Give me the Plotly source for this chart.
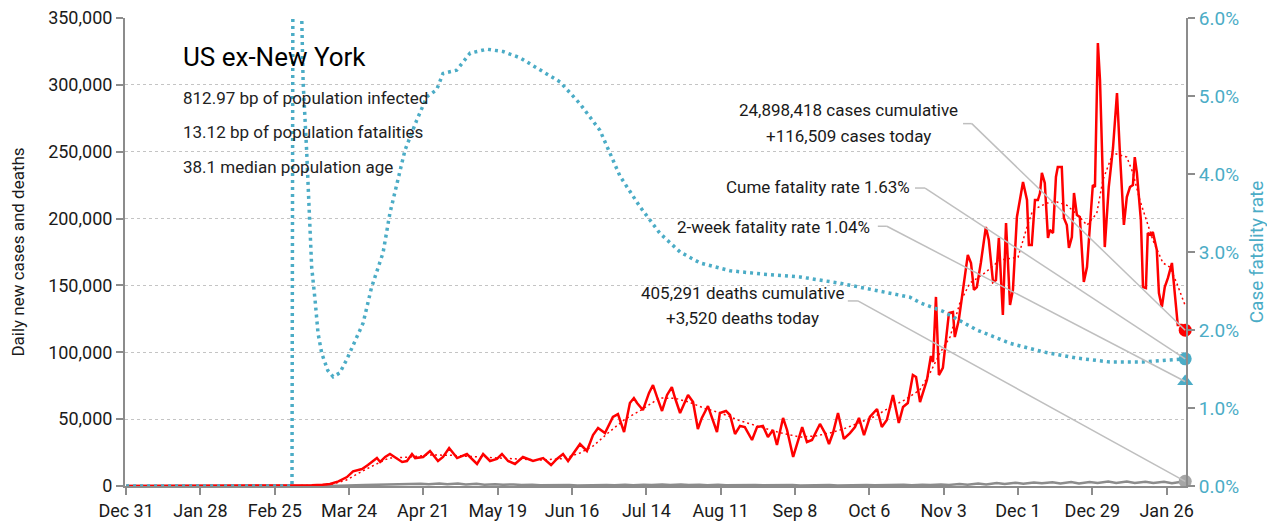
import numpy as np
import pandas as pd
import plotly.graph_objects as go

BASE = pd.Timestamp("2019-12-31")

# ---------------- data (days since Dec 31, 2019) ----------------
case_day = [0, 40, 55, 60, 65, 70, 74, 76.8, 80, 83.2, 85.5, 88.9, 91.1, 94.5, 95.7, 97.6, 99.4,
            101.3, 104.0, 105.8, 107.7, 108.9, 111.9, 114.5, 117.5, 119.4, 121.7, 124.7, 128.4,
            132.2, 134.5, 137.1, 139.7, 141.6, 143.9, 146.5, 149.5, 153.3, 157.1, 160.1, 162.3,
            164.6, 166.5, 171.0, 173.6, 175.9, 177.8, 180.4, 183.4, 185.3, 187.6, 189.8, 191.3,
            192.5, 194.7, 197.0, 198.5, 200.0, 201.9, 203.8, 205.6, 206.8, 208.7, 211.7, 213.6,
            215.4, 216.9, 219.2, 220.7, 222.6, 223.7, 226.0, 227.5, 229.4, 231.3, 233.1, 235.8,
            237.7, 239.9, 241.8, 243.7, 245.2, 247.5, 249.0, 251.3, 254.7, 256.5, 258.4, 261.4,
            263.3, 264.8, 266.3, 268.2, 270.4, 272.7, 274.6, 276.1, 278.0, 280.2, 282.9, 284.7,
            286.6, 288.9, 291.1, 292.7, 294.5, 296.4, 297.6, 299.1, 301.7, 303.2, 304.0, 305.1,
            306.2, 307.7, 310.0, 311.5, 312.2, 313.7, 315.3, 317.1, 318.3, 319.4, 320.5, 322.0,
            323.9, 325.0, 326.6, 327.7, 328.8, 330.3, 331.5, 333.0, 334.1, 335.6, 337.9, 339.4,
            340.1, 341.2, 342.4, 343.5, 344.3, 345.0, 346.1, 347.3, 348.0, 349.2, 350.3, 351.0,
            352.5, 353.3, 354.4, 355.2, 356.3, 357.1, 358.2, 359.3, 360.8, 362.0, 364.2, 365.0,
            366.1, 366.9, 368.7, 370.2, 371.8, 373.3, 374.4, 375.9, 377.0, 378.2, 379.3, 380.0,
            380.8, 382.3, 383.1, 384.2, 384.9, 386.1, 386.8, 388.3, 389.1, 390.2, 391.3, 392.5,
            394.0, 395.5, 396.2, 397.7, 399.0]
case_val = [0, 0, 0, 50, 300, 500, 1000, 1500, 3500, 6700, 11000, 12700, 15700, 20900, 18000, 21700, 23900,
            21700, 18000, 18700, 23900, 20900, 21700, 26200, 18700, 21700, 28400, 20900, 23900,
            16500, 23900, 18700, 20200, 23900, 18700, 16500, 21700, 18700, 20900, 15700, 20200,
            23900, 18700, 31400, 26200, 38100, 43400, 39600, 51600, 53800, 40400, 62100, 65800,
            62100, 56800, 69600, 75500, 66600, 56100, 68100, 74000, 65800, 54600, 68100, 62800,
            42600, 50900, 59800, 51600, 40400, 54600, 56100, 53100, 38900, 44900, 44100, 34400,
            44100, 44900, 36600, 41900, 30700, 50900, 41900, 21700, 44100, 32900, 34400, 46400,
            39600, 31400, 39600, 54600, 35200, 39600, 44100, 50900, 38100, 51600, 57600, 44100,
            49400, 68100, 47100, 59100, 62100, 83000, 81500, 62800, 79300, 97200, 92700, 141400,
            83000, 88300, 129400, 130100, 111400, 124200, 148800, 172800, 166800, 146600, 148800, 166800,
            193700, 184000, 152600, 154100, 185500, 127900, 196700, 135400, 146600, 201200, 227400, 213900,
            180200, 180200, 213900, 213900, 219100, 234100, 226600, 185500, 191500, 189200, 231100, 238600,
            238600, 200400, 195200, 178000, 186200, 219100, 202700, 201200, 152600, 163800, 225100, 223600,
            331300, 303600, 178700, 223600, 252800, 293900, 249000, 195200, 216100, 223600, 225100, 246000,
            234100, 198900, 148800, 148100, 189200, 187700, 190000, 176500, 144300, 133900, 148800, 155600,
            166800, 136900, 120400, 120400, 116509]

avg_day = [0, 60, 70, 78, 83, 88, 92, 99, 106, 114, 122, 133, 145, 156, 165, 171, 176, 182, 188, 194,
           201, 207, 212, 218, 224, 231, 239, 246, 254, 260, 265, 270, 276, 282, 288, 293, 299, 303,
           306.6, 310.4, 314.1, 317.9, 323.5, 329.2, 336.0, 339.4, 341.6, 346.9, 350.7, 354.4, 359.3,
           362.0, 365.7, 368.0, 371.8, 377.0, 379.3, 381.9, 386.8, 390.6, 393.2, 395.8, 398.9]
avg_val = [0, 0, 300, 1500, 4500, 10000, 14200, 20900, 21500, 23200, 23000, 21700, 20500, 19400, 20500,
           24700, 30000, 40400, 50000, 56800, 65800, 65500, 62800, 58000, 54600, 49000, 44100, 40000,
           36600, 37500, 39600, 42500, 47100, 52000, 59100, 64000, 71800, 85000, 99500, 111400, 136900,
           151800, 159300, 169000, 171000, 193700, 206400, 211600, 212400, 210000, 201200, 195000,
           204000, 228900, 249000, 246000, 234100, 213900, 184000, 166800, 163800, 151800, 135400]

death_day = [0, 60, 70, 80, 90, 100, 104, 107, 111, 114, 118, 121, 125, 128, 132, 135, 139, 142, 146,
             149, 153, 156, 160, 163, 167, 170, 174, 177, 181, 184, 188, 191, 195, 198, 202, 205, 209,
             212, 216, 219, 223, 226, 230, 233, 237, 240, 244, 247, 251, 254, 258, 261, 265, 268, 272,
             275, 279, 282, 286, 289, 293, 296, 300, 303, 307, 310, 314, 317, 321, 324, 328, 331, 335,
             338, 342, 345, 349, 352, 356, 359, 363, 366, 370, 373, 377, 380, 384, 387, 391, 394, 398, 399]
death_val = [0, 0, 20, 200, 700, 1200, 1500, 1100, 1700, 1400, 1900, 1300, 1800, 1200, 1600, 1000, 1400,
             900, 1200, 700, 1000, 600, 800, 450, 700, 400, 650, 450, 800, 500, 900, 600, 1000, 700,
             1100, 700, 1100, 700, 1000, 650, 950, 600, 850, 550, 800, 500, 750, 450, 700, 400, 700,
             450, 700, 450, 650, 450, 700, 500, 800, 550, 900, 600, 1000, 700, 1200, 800, 1500, 1000,
             1900, 1200, 2300, 1500, 2500, 1700, 2700, 2000, 2800, 1900, 2900, 1800, 3000, 2200, 3300,
             2300, 3300, 2300, 3200, 2200, 3100, 2100, 3000, 3520]

cfr_day = [0, 62.5, 63, 65, 66.2, 66.7, 68.0, 68.9, 69.9, 71.2, 72.3, 73.7, 76, 78.0, 80.5, 83.1, 89.3,
           92.5, 96.8, 99.4, 102.4, 105.1, 109.5, 113.3, 117.0, 119.4, 124.5, 129.6, 135.9, 142.0,
           148.4, 155.9, 163.5, 171.0, 178.5, 186.1, 193.6, 201.1, 208.7, 216.2, 227.5, 238.8, 253.9,
           268.9, 280.2, 287.3, 295.3, 299.1, 307.7, 320.5, 333.0, 345.4, 358.2, 370.6, 383.1, 390.6, 399.0]
cfr_val = [0, 0, 9.5, 8.0, 5.95, 5.17, 4.31, 3.58, 2.81, 2.38, 1.96, 1.70, 1.48, 1.40, 1.45, 1.62, 2.09,
           2.55, 2.99, 3.5, 3.92, 4.31, 4.69, 4.99, 5.08, 5.29, 5.33, 5.55, 5.6, 5.57, 5.49, 5.33, 5.18,
           4.9, 4.56, 3.97, 3.58, 3.24, 3.0, 2.86, 2.76, 2.72, 2.68, 2.60, 2.52, 2.47, 2.42, 2.35, 2.24,
           2.0, 1.83, 1.72, 1.64, 1.59, 1.59, 1.61, 1.63]

two_week_cfr = 1.34          # plotted position of the triangle marker (%)
tick_days = list(range(0, 393, 28))

title_text = "US ex-New York"
info_lines = ["812.97 bp of population infected",
              "13.12 bp of population fatalities",
              "38.1 median population age"]
cases_lines = ["24,898,418 cases cumulative", "+116,509 cases today"]
cume_label = "Cume fatality rate 1.63%"
twoweek_label = "2-week fatality rate 1.04%"
deaths_lines = ["405,291 deaths cumulative", "+3,520 deaths today"]

# ---------------- helpers ----------------
def d(days):
    return [BASE + pd.Timedelta(days=float(x)) for x in np.atleast_1d(days)]

RED = "#ff0000"
CYAN = "#4bacc6"
GRAY = "#8c8c8c"
LEAD = "#bfbfbf"
FONT = "Roboto, Liberation Sans, sans-serif"

fig = go.Figure()

fig.add_trace(go.Scatter(x=d(cfr_day), y=cfr_val, yaxis="y2", mode="lines",
                         line=dict(color=CYAN, width=3.5, dash="3px,4px"), hoverinfo="skip"))
fig.add_trace(go.Scatter(x=d(death_day), y=death_val, mode="lines",
                         line=dict(color=GRAY, width=2.5), hoverinfo="skip"))
fig.add_trace(go.Scatter(x=d(avg_day), y=avg_val, mode="lines",
                         line=dict(color=RED, width=1.5, dash="2px,3px"), hoverinfo="skip"))
fig.add_trace(go.Scatter(x=d(case_day), y=case_val, mode="lines",
                         line=dict(color=RED, width=2.5), hoverinfo="skip"))

last = d(case_day[-1])
fig.add_trace(go.Scatter(x=last, y=[case_val[-1]], mode="markers",
                         marker=dict(color=RED, size=13), cliponaxis=False))
fig.add_trace(go.Scatter(x=last, y=[death_val[-1]], mode="markers",
                         marker=dict(color="#a6a6a6", size=13), cliponaxis=False))
fig.add_trace(go.Scatter(x=last, y=[cfr_val[-1]], yaxis="y2", mode="markers",
                         marker=dict(color=CYAN, size=13), cliponaxis=False))
fig.add_trace(go.Scatter(x=last, y=[two_week_cfr], yaxis="y2", mode="markers",
                         marker=dict(color=CYAN, size=14, symbol="triangle-up"), cliponaxis=False))

# leader lines (label anchor -> kink -> end marker)
def leader(x0, x1, y0, xend, yend, yref):
    fig.add_shape(type="line", xref="x", yref=yref, x0=d(x0)[0], x1=d(x1)[0], y0=y0, y1=y0,
                  line=dict(color=LEAD, width=1.5))
    fig.add_shape(type="line", xref="x", yref=yref, x0=d(x1)[0], x1=xend, y0=y0, y1=yend,
                  line=dict(color=LEAD, width=1.5))

leader(315.3, 318.6, 271000, last[0], case_val[-1], "y")
leader(297.2, 301.0, 3.82, last[0], cfr_val[-1], "y2")
leader(283.2, 286.6, 3.33, last[0], two_week_cfr, "y2")
leader(271.9, 275.7, 138400, last[0], death_val[-1], "y")

ann_font = dict(family=FONT, size=17, color="#1a1a1a")
for txt, yv in zip(cases_lines, [281200, 261800]):
    fig.add_annotation(x=d(272.3)[0], y=yv, text=txt, showarrow=False,
                       xanchor="center", yanchor="middle", font=ann_font)
fig.add_annotation(x=d(296.0)[0], y=3.83, yref="y2", text=cume_label, showarrow=False,
                   xanchor="right", yanchor="middle", font=ann_font)
fig.add_annotation(x=d(281.0)[0], y=3.32, yref="y2", text=twoweek_label, showarrow=False,
                   xanchor="right", yanchor="middle", font=ann_font)
for txt, yv in zip(deaths_lines, [144300, 125600]):
    fig.add_annotation(x=d(232.4)[0], y=yv, text=txt, showarrow=False,
                       xanchor="center", yanchor="middle", font=ann_font)

# title block
fig.add_annotation(xref="paper", yref="paper", x=0.053, y=0.917, text=title_text, showarrow=False,
                   xanchor="left", yanchor="middle", font=dict(family=FONT, size=26, color="#000"))
for line, yp in zip(info_lines, [0.829, 0.756, 0.682]):
    fig.add_annotation(xref="paper", yref="paper", x=0.053, y=yp, text=line, showarrow=False,
                       xanchor="left", yanchor="middle", font=dict(family=FONT, size=17, color="#222"))

axis_common = dict(showline=True, linecolor="#8c8c8c", linewidth=2, ticks="outside",
                   tickcolor="#8c8c8c", tickwidth=1.5, ticklen=7, zeroline=False, automargin=False,
                   ticklabeloverflow="allow")

# the page body adds an 8px offset, so the figure is sized/margined to compensate
fig.update_layout(
    width=1267, height=519,
    margin=dict(l=117, r=89, t=10, b=41),
    paper_bgcolor="white", plot_bgcolor="white",
    showlegend=False,
    font=dict(family=FONT, size=18, color="#1a1a1a"),
    xaxis=dict(type="date", range=[BASE - pd.Timedelta(hours=10), BASE + pd.Timedelta(days=399.3)],
               tickvals=d(tick_days), tickformat="%b %-d", showgrid=False, **axis_common),
    yaxis=dict(range=[0, 350000], dtick=50000, tickformat=",", showgrid=True,
               gridcolor="#c4c4c4", griddash="dot", gridwidth=1,
               title=dict(text="Daily new cases and deaths", font=dict(size=17), standoff=20),
               **axis_common),
    yaxis2=dict(overlaying="y", side="right", range=[0, 6], dtick=1, tickformat=".1f",
                ticksuffix="%", showgrid=False, tickfont=dict(color=CYAN, size=19),
                title=dict(text="Case fatality rate", font=dict(color=CYAN, size=19), standoff=12),
                **axis_common),
)

fig.write_html("out.html")
